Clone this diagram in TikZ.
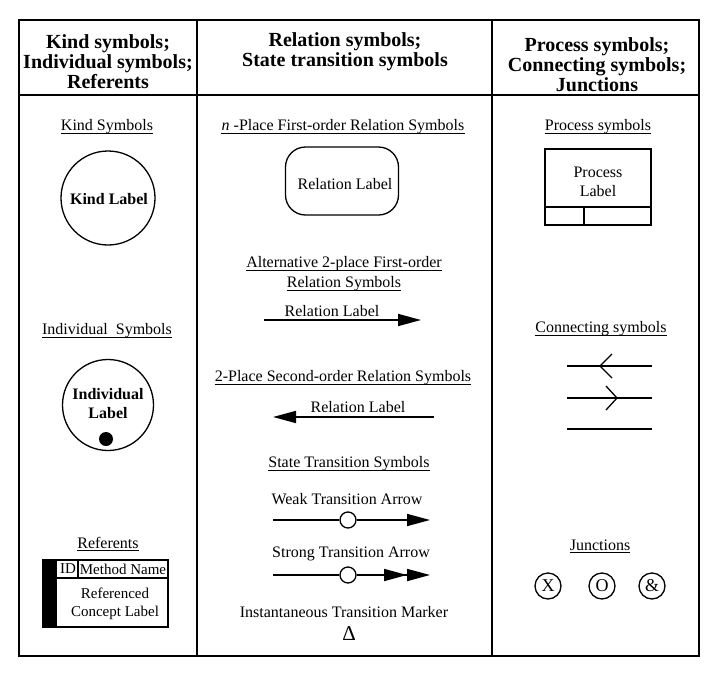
\documentclass[tikz,border=0pt]{standalone}
\usepackage{fontspec}
\setmainfont{Liberation Serif}
\usetikzlibrary{arrows.meta}
\newcommand\ulnode[1]{\draw[ulline] ([yshift=-2.2pt]#1.base west) -- ([yshift=-2.2pt]#1.base east);}
\begin{document}
\begin{tikzpicture}[x=1pt,y=-1pt,
  every node/.style={inner sep=0pt},
  head/.style={font=\bfseries\fontsize{20}{20}\selectfont, align=center},
  lbl/.style={font=\fontsize{16}{19}\selectfont, align=center},
  small/.style={font=\fontsize{15}{18}\selectfont, align=center},
  blbl/.style={font=\bfseries\fontsize{16}{19}\selectfont, align=center},
  ulline/.style={line width=0.9pt},
  thin line/.style={line width=1.3pt},
  arrline/.style={line width=1.7pt},
  bighead/.style={-{Triangle[length=23pt,width=12pt]}},
  dblhead/.style={-{Triangle[length=23pt,width=12pt,sep=0pt]Triangle[length=23pt,width=12pt]}},
  ring/.style={circle, draw, line width=1.3pt, inner sep=0pt},
  junc/.style={circle, draw, line width=1.3pt, minimum size=26pt, inner sep=0pt, font=\fontsize{18}{18}\selectfont}
]
\useasboundingbox (0,0) rectangle (720,672);
\fill[white] (0,0) rectangle (720,672);

% table frame
\draw[line width=2pt] (19,20) rectangle (699,656);
\draw[line width=2.6pt] (699,20) -- (699,656) -- (19,656);
\draw[line width=1.5pt] (19,95) -- (699,95);
\draw[line width=1.5pt] (197,20) -- (197,656);
\draw[line width=1.5pt] (492,20) -- (492,656);

% headers
\node[head] (h1) at (108,62) {Kind symbols;\\Individual symbols;\\Referents};
\node[head] (h2) at (345,52) {Relation symbols;\\State transition symbols};
\node[head] (h3) at (597,65) {Process symbols;\\Connecting symbols;\\Junctions};

% ---------- column 1
\node[lbl] (kst) at (107,127) {Kind Symbols};
\ulnode{kst}
\node[ring, minimum size=94pt] (kc) at (108,198) {};
\node[blbl] (kl) at (109,199) {Kind Label};

\node[lbl] (ist) at (107,331) {Individual\ \ Symbols};
\ulnode{ist}
\node[ring, minimum size=91pt] (ic) at (108,405) {};
\node[blbl] (il) at (108,404) {Individual\\Label};
\fill (106,439) circle (7pt);

\node[lbl] (rt) at (108,543) {Referents};
\ulnode{rt}
\fill (43,560) rectangle (57,627);
\draw[thin line] (43,560) rectangle (168,627);
\draw[thin line] (57,578) -- (168,578);
\draw[thin line] (78,560) -- (78,578);
\node[small] (rid) at (68,569) {ID};
\node[small] (rmn) at (123,569) {Method Name};
\node[small] (rcl) at (115,604) {Referenced\\Concept Label};

% ---------- column 2
\node[lbl] (nt) at (343,127) {\textit{n} -Place First-order Relation Symbols};
\ulnode{nt}
\node[draw, thin line, rounded corners=20pt, minimum width=113pt, minimum height=68pt] (rr) at (342,181) {};
\node[lbl] (rrl) at (345,184) {Relation Label};

\node[lbl] (at1) at (344,264) {Alternative 2-place First-order};
\ulnode{at1}
\node[lbl] (at2) at (344,284) {Relation Symbols};
\ulnode{at2}
\coordinate (a1s) at (264,320);
\coordinate (a1e) at (421,320);
\draw[arrline, bighead] (a1s) -- (a1e);
\node[lbl] (a1l) at (332,311) {Relation Label};

\node[lbl] (st) at (343,378) {2-Place Second-order Relation Symbols};
\ulnode{st}
\coordinate (a2s) at (434,417);
\coordinate (a2e) at (273,417);
\draw[arrline, bighead] (a2s) -- (a2e);
\node[lbl] (a2l) at (358,407) {Relation Label};

\node[lbl] (tt) at (349,464) {State Transition Symbols};
\ulnode{tt}
\node[lbl] (wl) at (347,499) {Weak Transition Arrow};
\coordinate (ws) at (273,520);
\node[ring, minimum size=16pt] (wc) at (348,520) {};
\coordinate (we) at (430,520);
\draw[arrline] (ws) -- (wc);
\draw[arrline, bighead] (wc) -- (we);

\node[lbl] (sl) at (351,554) {Strong Transition Arrow};
\coordinate (ss) at (273,575);
\node[ring, minimum size=16pt] (sc) at (348,575) {};
\coordinate (se) at (430,575);
\draw[arrline] (ss) -- (sc);
\draw[arrline, dblhead] (sc) -- (se);

\node[lbl] (il2) at (344,612) {Instantaneous Transition Marker};
\node[font=\fontsize{21}{21}\selectfont] (delta) at (349,634) {Δ};

% ---------- column 3
\node[lbl] (pt) at (598,127) {Process symbols};
\ulnode{pt}
\draw[thin line] (545,149) rectangle (651,225);
\draw[thin line] (544,207) -- (651,207);
\draw[line width=1.6pt] (584,207) -- (584,225);
\node[lbl] (pl) at (598,182) {Process\\Label};

\node[lbl] (ct) at (601,329) {Connecting symbols};
\ulnode{ct}
\coordinate (c1a) at (567,366);
\coordinate (c1b) at (652,366);
\draw[thin line] (c1a) -- (c1b);
\draw[thin line] (612,354) -- (600,366) -- (612,378);
\coordinate (c2a) at (567,398);
\coordinate (c2b) at (652,398);
\draw[thin line] (c2a) -- (c2b);
\draw[thin line] (606,386) -- (617,398) -- (606,410);
\coordinate (c3a) at (567,429);
\coordinate (c3b) at (652,429);
\draw[thin line] (c3a) -- (c3b);

\node[lbl] (jt) at (600,545) {Junctions};
\ulnode{jt}
\node[junc] (jx) at (548,586) {X};
\node[junc] (jo) at (602,586) {O};
\node[junc] (ja) at (652,586) {\&};
\end{tikzpicture}
\end{document}
